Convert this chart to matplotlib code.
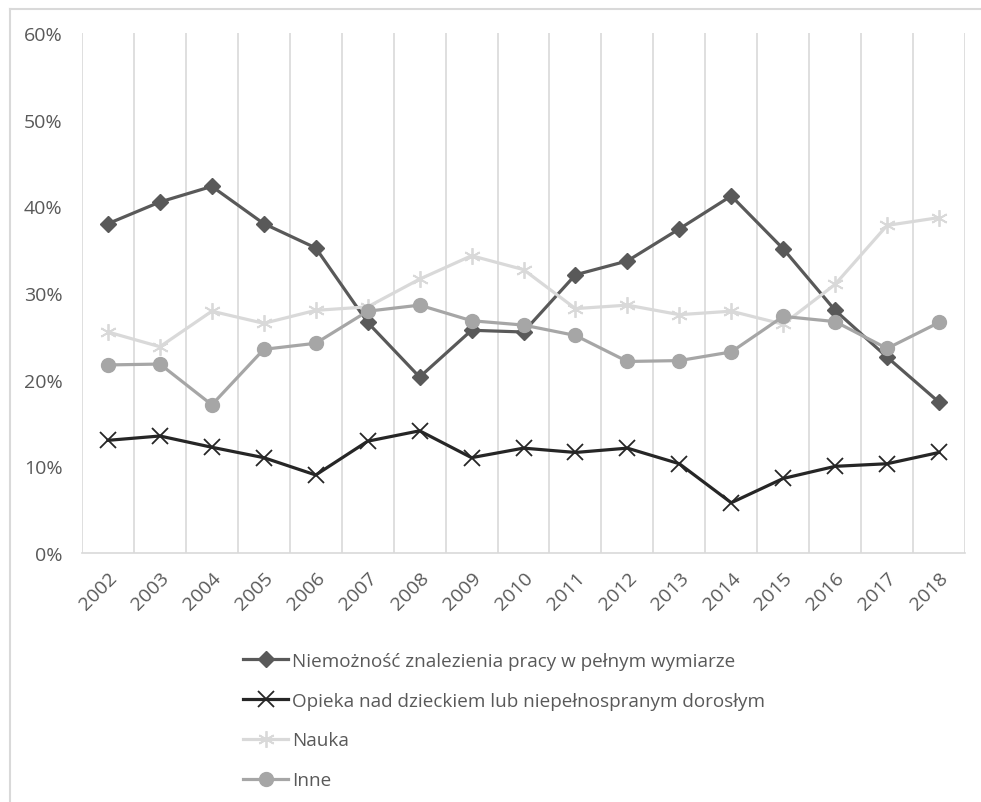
import numpy as np
import matplotlib
matplotlib.use('Agg')
import matplotlib.pyplot as plt
from matplotlib.lines import Line2D
from matplotlib.ticker import PercentFormatter

plt.rcParams['font.family'] = ['Open Sans', 'DejaVu Sans']

# data (percent)
years = ['2002', '2003', '2004', '2005', '2006', '2007', '2008', '2009', '2010',
         '2011', '2012', '2013', '2014', '2015', '2016', '2017', '2018']
niemoznosc = [38.0, 40.5, 42.3, 38.0, 35.2, 26.6, 20.3, 25.7, 25.5,
              32.1, 33.7, 37.4, 41.2, 35.1, 28.0, 22.6, 17.4]
opieka = [13.0, 13.5, 12.2, 11.0, 9.0, 12.9, 14.1, 11.0, 12.1,
          11.6, 12.1, 10.3, 5.8, 8.6, 10.0, 10.3, 11.6]
nauka = [25.5, 23.8, 27.9, 26.5, 28.0, 28.4, 31.6, 34.3, 32.7,
         28.2, 28.6, 27.5, 27.9, 26.4, 31.0, 37.8, 38.7]
inne = [21.7, 21.8, 17.1, 23.5, 24.2, 27.9, 28.6, 26.8, 26.3,
        25.1, 22.1, 22.2, 23.2, 27.3, 26.7, 23.6, 26.6]
labels = ['Niemożność znalezienia pracy w pełnym wymiarze',
          'Opieka nad dzieckiem lub niepełnospranym dorosłym',
          'Nauka',
          'Inne']

txt = '#595959'
grid = '#d9d9d9'

fig = plt.figure(figsize=(9.81, 8.03), dpi=100)
ax = fig.add_axes([82/981, 1-554/803, 883/981, 520/803])

x = np.arange(len(years))
lw = 2.3
h1, = ax.plot(x, niemoznosc, color='#595959', lw=lw, marker='D', ms=8)
h2, = ax.plot(x, opieka, color='#262626', lw=lw, marker='x', ms=11, mew=1.3)
h3, = ax.plot(x, nauka, color='#d9d9d9', lw=lw, marker=(6, 2, 0), ms=12, mew=1.3)
h4, = ax.plot(x, inne, color='#a6a6a6', lw=lw, marker='o', ms=10)

ax.set_xlim(-0.5, len(years) - 0.5)
ax.set_ylim(0, 60)
ax.set_yticks(np.arange(0, 61, 10))
ax.yaxis.set_major_formatter(PercentFormatter(decimals=0))
ax.set_xticks(x)
ax.set_xticklabels(years, rotation=45, ha='right', rotation_mode='anchor')
# vertical gridlines between categories
for b in np.arange(-0.5, len(years), 1.0):
    ax.axvline(b, color=grid, lw=1.2, zorder=0)

for s in ['top', 'right', 'left']:
    ax.spines[s].set_visible(False)
ax.spines['bottom'].set_color(grid)
ax.spines['bottom'].set_linewidth(1.2)
ax.tick_params(axis='both', length=0, colors=txt, labelsize=14)
ax.tick_params(axis='y', pad=14)
ax.tick_params(axis='x', pad=11)

leg = fig.legend([h1, h2, h3, h4], labels, loc='upper left',
                 bbox_to_anchor=(226/981, 1-636/803), frameon=False,
                 handlelength=2.4, handletextpad=0.2, labelspacing=1.15,
                 fontsize=13.6, labelcolor=txt)

# outer frame (left and top edges)
fig.add_artist(Line2D([10/981, 10/981], [0, 1-10/803], color=grid, lw=1.5))
fig.add_artist(Line2D([10/981, 1], [1-10/803, 1-10/803], color=grid, lw=1.5))

fig.savefig('out.png', dpi=100)
